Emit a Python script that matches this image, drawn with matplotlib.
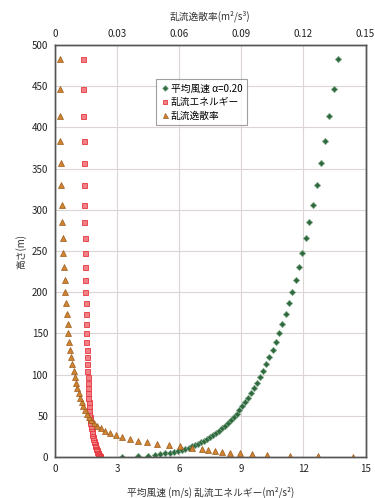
import matplotlib
matplotlib.use("Agg")
import matplotlib.pyplot as plt

plt.rcParams['font.family'] = ['Noto Sans CJK JP', 'DejaVu Sans']

# heights (m), shared by all three profiles
height = [0.35, 1.05, 1.80, 2.60, 3.46, 4.38, 5.36, 6.41, 7.53, 8.74,
          10.02, 11.40, 12.87, 14.45, 16.14, 17.94, 19.87, 21.94, 24.15, 26.52,
          29.05, 31.76, 34.65, 37.76, 41.07, 44.62, 48.42, 52.49, 56.84, 61.49,
          66.47, 71.80, 77.50, 83.60, 90.13, 97.12, 104.59, 112.59, 121.14, 130.30,
          140.10, 150.58, 161.79, 173.79, 186.64, 200.38, 215.08, 230.81, 247.64, 265.65,
          284.92, 305.8, 330.1, 356.4, 383.9, 413.8, 446.6, 482.6]

# mean wind speed (m/s)
wind = [3.22, 4.01, 4.47, 4.81, 5.09, 5.33, 5.55, 5.76, 5.94, 6.12,
        6.29, 6.46, 6.62, 6.77, 6.92, 7.07, 7.22, 7.36, 7.50, 7.65,
        7.79, 7.93, 8.07, 8.21, 8.35, 8.49, 8.63, 8.77, 8.91, 9.05,
        9.19, 9.33, 9.48, 9.62, 9.77, 9.91, 10.06, 10.21, 10.36, 10.51,
        10.67, 10.82, 10.98, 11.14, 11.30, 11.46, 11.62, 11.79, 11.95, 12.12,
        12.29, 12.46, 12.66, 12.85, 13.06, 13.24, 13.46, 13.66]

# turbulent kinetic energy (m2/s2)
tke = [2.18, 2.16, 2.14, 2.12, 2.10, 2.08, 2.06, 2.05, 2.03, 2.01,
       1.99, 1.97, 1.95, 1.93, 1.91, 1.89, 1.87, 1.85, 1.83, 1.81,
       1.79, 1.77, 1.75, 1.73, 1.71, 1.69, 1.67, 1.66, 1.65, 1.63,
       1.62, 1.61, 1.60, 1.59, 1.58, 1.57, 1.56, 1.55, 1.54, 1.53,
       1.52, 1.51, 1.50, 1.49, 1.48, 1.47, 1.46, 1.45, 1.44, 1.43,
       1.42, 1.41, 1.40, 1.39, 1.38, 1.37, 1.36, 1.35]

# dissipation rate (m2/s3)
eps = [0.1441, 0.1272, 0.1135, 0.1023, 0.0950, 0.0894, 0.0846, 0.0806, 0.0773, 0.0741,
       0.0709, 0.0660, 0.0605, 0.0550, 0.0495, 0.0445, 0.0400, 0.0360, 0.0325, 0.0293,
       0.0265, 0.0241, 0.0221, 0.0204, 0.0189, 0.0176, 0.0165, 0.0155, 0.0146, 0.0137,
       0.0129, 0.0121, 0.0114, 0.0107, 0.0101, 0.0096, 0.0090, 0.0084, 0.0079, 0.0073,
       0.0069, 0.0065, 0.0061, 0.0057, 0.0053, 0.0049, 0.0046, 0.0043, 0.0040, 0.0037,
       0.0035, 0.0032, 0.0030, 0.0028, 0.0026, 0.0024, 0.0022, 0.0022]

bottom_ticks = [0, 3, 6, 9, 12, 15]
top_ticks = [0, 0.03, 0.06, 0.09, 0.12, 0.15]
top_labels = ["0", "0.03", "0.06", "0.09", "0.12", "0.15"]

fig = plt.figure(figsize=(3.75, 4.98), dpi=100)
ax = fig.add_axes([0.1467, 0.0823, 0.828, 0.8273])

ax.plot(wind, height, ls="none", marker="D", ms=3.2, mfc="#2f6a3d", mec="#7fa58a",
        mew=0.5, label="平均風速 α=0.20")
ax.plot(tke, height, ls="none", marker="s", ms=3.6, mfc="#f08086", mec="#e8363e",
        mew=0.6, label="乱流エネルギー")

ax.set_xlim(0, 15)
ax.set_ylim(0, 500)
ax.set_xticks(bottom_ticks)
ax.set_yticks(range(0, 501, 50))
ax.grid(True, color="#ddd4d4", lw=0.8)
ax.set_axisbelow(True)
ax.tick_params(labelsize=7, length=0, pad=5, colors="#222222")
ax.set_xlabel("平均風速 (m/s) 乱流エネルギー(m²/s²)", fontsize=7, color="#333333",
              labelpad=9)
ax.set_ylabel("高さ(m)", fontsize=7, color="#333333", labelpad=4)

ax2 = ax.twiny()
ax2.plot(eps, height, ls="none", marker="^", ms=4, mfc="#d08430", mec="#9c5a1c",
         mew=0.5, label="乱流逸散率")
ax2.set_xlim(0, 0.15)
ax2.set_xticks(top_ticks)
ax2.set_xticklabels(top_labels)
ax2.tick_params(labelsize=7, length=0, pad=4, colors="#222222")
ax2.set_xlabel("乱流逸散率(m²/s³)", fontsize=7, color="#333333", labelpad=7)

for a in (ax, ax2):
    for s in a.spines.values():
        s.set_color("#555555")
        s.set_linewidth(1.0)

h1, l1 = ax.get_legend_handles_labels()
h2, l2 = ax2.get_legend_handles_labels()
leg = ax2.legend(h1 + h2, l1 + l2, loc="upper left", bbox_to_anchor=(0.31, 0.93),
                 fontsize=7, frameon=True, fancybox=False, edgecolor="#888888",
                 handletextpad=0.2, handlelength=0.8, borderpad=0.5, labelspacing=0.35,
                 markerscale=0.9)
leg.get_frame().set_linewidth(0.8)

fig.savefig("out.png", dpi=100)
